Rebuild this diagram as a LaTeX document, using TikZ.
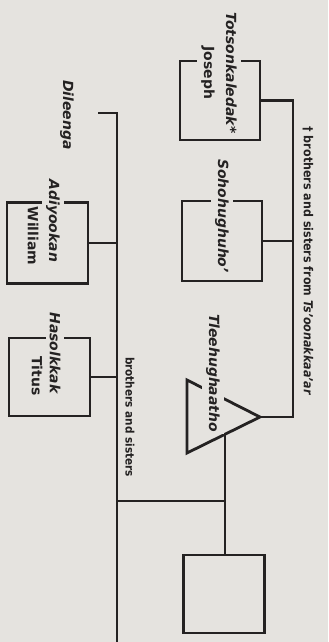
\documentclass[tikz,border=0pt]{standalone}
\usepackage{fontspec}
\setmainfont{DejaVu Sans}
\newfontfamily\condfont{DejaVu Sans Condensed}
\usetikzlibrary{calc}
\definecolor{paper}{RGB}{229,227,223}
\definecolor{ink}{RGB}{36,34,34}
\begin{document}
\begin{tikzpicture}[x=1bp,y=-1bp,
  pbox/.style={draw=ink, line width=2.8bp, rectangle, inner sep=0pt, outer sep=0pt},
  conn/.style={draw=ink, line width=2.8bp, line join=miter},
  pname/.style={rotate=-90, text=ink, inner sep=1.5bp, font=\bfseries\itshape\fontsize{14}{22}\selectfont},
  pgiven/.style={rotate=-90, text=ink, inner sep=1.5bp, font=\bfseries\fontsize{14}{22}\selectfont},
  lbl/.style={rotate=-90, text=ink, inner sep=1bp, font=\condfont\bfseries\fontsize{#1}{14}\selectfont},
  gap/.style={fill=paper, inner xsep=2bp, inner ysep=4bp}]
\useasboundingbox (0,0) rectangle (328,642);
\fill[paper] (0,0) rectangle (328,642);

% persons
\node[pbox, minimum width=80bp, minimum height=79bp] (A) at (220,100.5) {};
\node[pbox, minimum width=80bp, minimum height=80bp] (B) at (222,241) {};
\node[pbox, minimum width=81bp, minimum height=78bp] (C) at (224,594) {};
\node[pbox, minimum width=81bp, minimum height=81bp] (D) at (47.5,243) {};
\node[pbox, minimum width=81bp, minimum height=78bp] (E) at (49.5,377) {};

% triangle
\coordinate (t1) at (187,380);
\coordinate (t3) at (187,453);
\coordinate (ap) at (260,417);
\draw[conn] (t1) -- (ap) -- (t3) -- cycle;
\coordinate (tb) at ($(t3)!0.52!(ap)$);

% right sibling line
\coordinate (rc) at (293,417);
\draw[conn] (A.east) -| (rc) -- (ap);
\draw[conn] (B.east) -- (B.east -| rc);

% left sibling line
\coordinate (lt) at (98,113);
\coordinate (lb) at (117,642);
\draw[conn] (lt) -| (lb);
\draw[conn] (D.east) -- (D.east -| lb);
\draw[conn] (E.east) -- (E.east -| lb);

% descent to bottom square
\coordinate (j) at (tb |- 0,501);
\draw[conn] (tb) -- (tb |- C.north);
\draw[conn] (j) -- (j -| lb);

% texts
\node[pname, gap, align=center] (nA) at (219,73) {Totsonkaledak*\\\upshape Joseph};
\node[pname, gap] (nB) at (222,216) {Sohohughuho’};
\node[pname, gap] (nT) at (213,373) {Tleehughaatho};
\node[pname] (nL) at (67,115) {Dileenga};
\node[pname, gap] (nD) at (53,221) {Adiyookan};
\node[pgiven] (nD2) at (33,236) {William};
\node[pname, gap] (nE) at (55,353) {Hasolkkak};
\node[pgiven] (nE2) at (37,376) {Titus};
\node[lbl=11.7] (lb1) at (130,417) {brothers and sisters};
\node[lbl=12.4] (lb2) at (308,261) {† brothers and sisters from \textit{Ts’oonakkaa’ar}};
\end{tikzpicture}
\end{document}
